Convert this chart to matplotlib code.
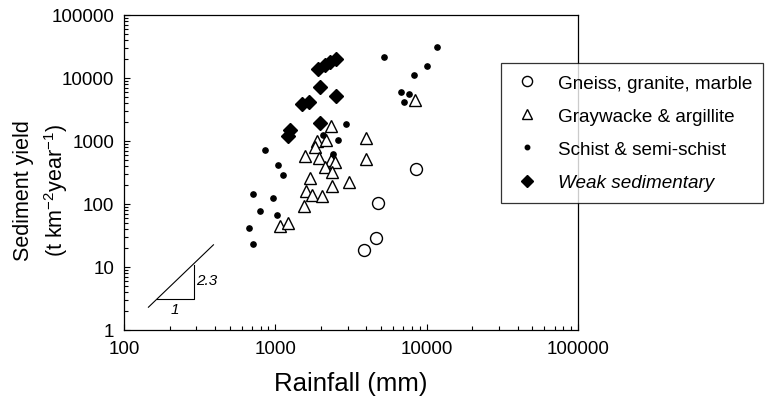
import matplotlib
matplotlib.use("Agg")
from matplotlib import pyplot as plt
from matplotlib.ticker import LogLocator, NullFormatter, FixedLocator, FixedFormatter

plt.rcParams['font.family'] = ['Liberation Sans', 'DejaVu Sans']
plt.rcParams['mathtext.fontset'] = 'custom'
plt.rcParams['mathtext.rm'] = 'Liberation Sans'
plt.rcParams['mathtext.it'] = 'Liberation Sans:italic'

# rainfall (mm) vs sediment yield (t km-2 year-1)
gneiss_rain = [8550, 4800, 4650, 3850]
gneiss_yield = [360, 103, 29, 18.6]

gray_rain = [2350, 1897, 2177, 1841, 1581, 1955, 2350, 2495, 2113, 2385, 1706,
             2385, 3090, 1604, 1758, 2047, 1556, 1079, 1219, 3945, 3945, 8340]
gray_yield = [1730, 1000, 1037, 803, 578, 537, 499, 464, 387, 322, 259,
              193, 224, 161, 139, 134, 93, 45, 50, 1117, 518, 4480]

schist_rain = [2910, 2080, 2576, 2423, 859, 1047, 1130, 714, 970, 796, 1030,
               673, 714, 5190, 11650, 10000, 8200, 6730, 7600, 7050]
schist_yield = [1864, 1245, 1037, 622, 720, 416, 289, 144, 125, 77, 67,
                41.6, 23.2, 21500, 31000, 15500, 11200, 6000, 5570, 4160]

weak_rain = [2535, 2312, 2113, 1928, 1986, 2535, 1510, 1680, 1986, 1256, 1219]
weak_yield = [20000, 17900, 16100, 13900, 7200, 5180, 3860, 4160, 1930, 1496, 1200]

labels = ["Gneiss, granite, marble", "Graywacke & argillite",
          "Schist & semi-schist", "Weak sedimentary"]

decades = [1, 10, 100, 1000, 10000, 100000]
xdecades = [100, 1000, 10000, 100000]


fig = plt.figure(figsize=(7.71, 4.02), dpi=100)
ax = fig.add_axes([124/771, 1-331/402, (578-124)/771, (331-16)/402])

h1, = ax.plot(gneiss_rain, gneiss_yield, 'o', ms=8.6, mfc='white', mec='k', mew=1.0, ls='none')
h2, = ax.plot(gray_rain, gray_yield, '^', ms=8.3, mfc='white', mec='k', mew=1.0, ls='none')
h3, = ax.plot(schist_rain, schist_yield, 'o', ms=3.8, mfc='k', mec='k', ls='none')
h4, = ax.plot(weak_rain, weak_yield, 'D', ms=6.8, mfc='k', mec='k', ls='none')

ax.set_xscale('log')
ax.set_yscale('log')
ax.set_xlim(100, 100000)
ax.set_ylim(1, 100000)

ax.xaxis.set_major_locator(FixedLocator(xdecades))
ax.xaxis.set_major_formatter(FixedFormatter([str(v) for v in xdecades]))
ax.yaxis.set_major_locator(FixedLocator(decades))
ax.yaxis.set_major_formatter(FixedFormatter([str(v) for v in decades]))
ax.xaxis.set_minor_locator(LogLocator(base=10, subs=range(2, 10), numticks=20))
ax.yaxis.set_minor_locator(LogLocator(base=10, subs=range(2, 10), numticks=20))
ax.xaxis.set_minor_formatter(NullFormatter())
ax.yaxis.set_minor_formatter(NullFormatter())

ax.tick_params(which='both', direction='in', top=False, right=False,
               labelsize=13.5, width=0.8)
ax.tick_params(which='major', length=4)
ax.tick_params(which='minor', length=3)
ax.tick_params(axis='x', pad=7)
ax.tick_params(axis='y', pad=7)
for s in ax.spines.values():
    s.set_linewidth(0.9)

ax.set_xlabel("Rainfall (mm)", fontsize=18.5, labelpad=10)
ax.set_ylabel("Sediment yield\n(t km$^{-2}$year$^{-1}$)", fontsize=15.5,
              linespacing=1.35)
ax.yaxis.set_label_coords(-0.12, 0.445)

# slope triangle
ax.plot([145, 390], [2.3, 22.5], color='k', lw=0.8)
ax.plot([165, 288, 288], [3.1, 3.1, 10.8], color='k', lw=0.8)
ax.text(218, 2.15, "1", fontsize=11, style='italic', ha='center', va='center')
ax.text(298, 6.2, "2.3", fontsize=11, style='italic', ha='left', va='center')

leg = fig.legend([h1, h2, h3, h4], labels, loc='upper left',
                 bbox_to_anchor=(501/771, 1-64/402), fontsize=13.6,
                 frameon=True, fancybox=False, borderpad=0.6,
                 handlelength=1.6, handletextpad=0.8, labelspacing=0.85,
                 borderaxespad=0, markerscale=0.85)
leg.get_frame().set_edgecolor('k')
leg.get_frame().set_linewidth(0.9)
leg.get_texts()[3].set_style('italic')

fig.savefig("out.png", dpi=100)
